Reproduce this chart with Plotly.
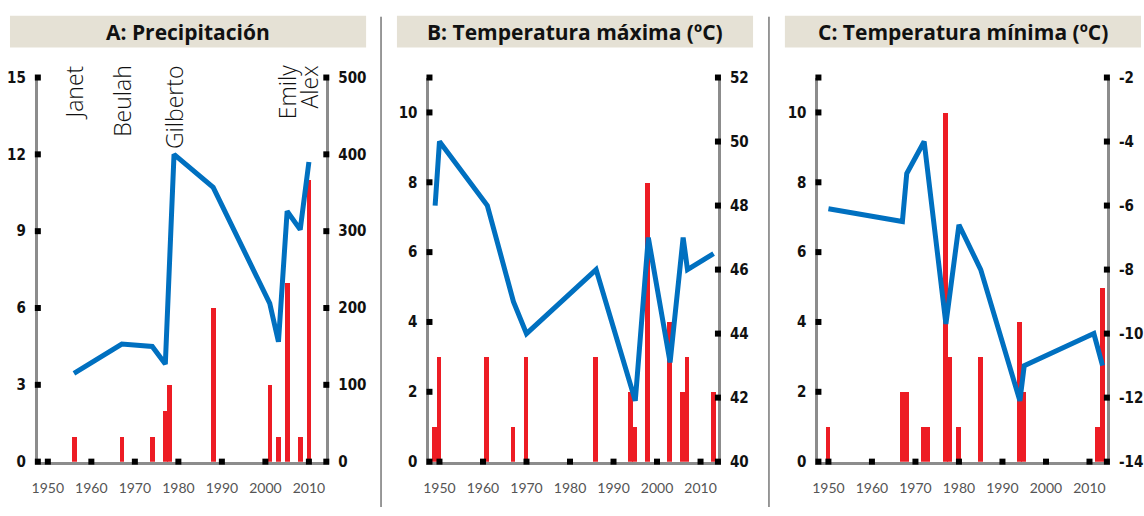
import plotly.graph_objects as go

W, H = 1144, 516

# ---------------- data ----------------
year_ticks = [1950, 1960, 1970, 1980, 1990, 2000, 2010]
x_range = [1947.7, 2014.0]

# Panel A: Precipitación
a_bar_years = [1956, 1967, 1974, 1977, 1978, 1988, 2001, 2003, 2005, 2008, 2010]
a_bar_vals = [1, 1, 1, 2, 3, 6, 3, 1, 7, 1, 11]
a_line_years = [1956, 1967, 1974, 1977, 1979, 1988, 2001, 2003, 2005, 2008, 2010]
a_line_vals = [115, 153, 150, 127, 400, 357, 206, 156, 326, 302, 390]
a_left_ticks = [0, 3, 6, 9, 12, 15]
a_right_ticks = [0, 100, 200, 300, 400, 500]
hurricane_names = ["Janet", "Beulah", "Gilberto", "Emily", "Alex"]
hurricane_years = [1956, 1967, 1979, 2005, 2010]

# Panel B: Temperatura máxima
b_bar_years = [1949, 1950, 1961, 1967, 1970, 1986, 1994, 1995, 1998, 2003, 2006, 2007, 2013]
b_bar_vals = [1, 3, 3, 1, 3, 3, 2, 1, 8, 4, 2, 3, 2]
b_line_years = [1949, 1950, 1961, 1967, 1970, 1986, 1995, 1998, 2003, 2006, 2007, 2013]
b_line_vals = [48.0, 50.0, 48.0, 45.0, 44.0, 46.0, 41.9, 47.0, 43.1, 47.0, 46.0, 46.5]
b_left_ticks = [0, 2, 4, 6, 8, 10, 11]
b_left_labels = ["0", "2", "4", "6", "8", "10", ""]
b_right_ticks = [40, 42, 44, 46, 48, 50, 52]

# Panel C: Temperatura mínima
c_bar_years = [1950, 1967, 1968, 1972, 1973, 1977, 1978, 1980, 1985, 1994, 1995, 2012, 2013]
c_bar_vals = [1, 2, 2, 1, 1, 10, 3, 1, 3, 4, 2, 1, 5]
c_line_years = [1950, 1967, 1968, 1972, 1977, 1980, 1985, 1994, 1995, 2011, 2013]
c_line_vals = [-6.1, -6.5, -5.0, -4.0, -9.7, -6.6, -8.0, -12.1, -11.0, -10.0, -11.0]
c_left_ticks = [0, 2, 4, 6, 8, 10, 11]
c_left_labels = ["0", "2", "4", "6", "8", "10", ""]
c_right_ticks = [-14, -12, -10, -8, -6, -4, -2]

titles = ["A: Precipitación", "B: Temperatura máxima (ºC)", "C: Temperatura mínima (ºC)"]

# ---------------- style ----------------
BAR_C = "#ED1C24"
LINE_C = "#0070C0"
AX_C = "#8C8C8C"
BANNER_C = "#E5E1D5"
NUM_FONT = dict(family="Liberation Sans Narrow, DejaVu Sans Condensed, Arial Narrow, sans-serif",
                size=15, color="#111111", weight="bold")
YEAR_FONT = dict(family="Lato, Open Sans, sans-serif", size=14, color="#555555")
TITLE_FONT = dict(family="Open Sans, Noto Sans, sans-serif", size=21, color="#111111", weight="bold")
NAME_FONT = dict(family="Open Sans, Lato, sans-serif", size=23, color="#111111", weight=300)

px = lambda v: v / W
py = lambda v: 1 - v / H

x_domains = [[px(32), px(322)], [px(425.7), px(715.7)], [px(816.7), px(1106.7)]]
y_domain = [py(469), py(71)]
banners = [(4, 362), (393, 751), (783, 1141)]

panels = [
    dict(bx=a_bar_years, by=a_bar_vals, lx=a_line_years, ly=a_line_vals,
         lt=a_left_ticks, ll=[str(v) for v in a_left_ticks], lr=[0, 15],
         rt=a_right_ticks, rr=[0, 500]),
    dict(bx=b_bar_years, by=b_bar_vals, lx=b_line_years, ly=b_line_vals,
         lt=b_left_ticks, ll=b_left_labels, lr=[0, 11],
         rt=b_right_ticks, rr=[40, 52]),
    dict(bx=c_bar_years, by=c_bar_vals, lx=c_line_years, ly=c_line_vals,
         lt=c_left_ticks, ll=c_left_labels, lr=[0, 11],
         rt=c_right_ticks, rr=[-14, -2]),
]

fig = go.Figure()
layout = {}
annotations = []
shapes = []

for i, p in enumerate(panels):
    xn = "x" if i == 0 else f"x{i+1}"
    yl_n = f"y{2*i+1}" if i > 0 else "y"
    yr_n = f"y{2*i+2}"
    xk = "xaxis" if i == 0 else f"xaxis{i+1}"
    ylk = "yaxis" if i == 0 else f"yaxis{2*i+1}"
    yrk = f"yaxis{2*i+2}"

    fig.add_trace(go.Bar(x=p["bx"], y=p["by"], width=1.1, marker=dict(color=BAR_C, line=dict(width=0)),
                         xaxis=xn, yaxis=yl_n, showlegend=False, hoverinfo="skip"))
    fig.add_trace(go.Scatter(x=p["lx"], y=p["ly"], mode="lines", line=dict(color=LINE_C, width=5),
                             xaxis=xn, yaxis=yr_n, showlegend=False, hoverinfo="skip"))
    # square tick marks
    sq = dict(symbol="square", size=6, color="black")
    fig.add_trace(go.Scatter(x=[x_range[0]] * len(p["lt"]), y=p["lt"], mode="markers", marker=sq,
                             cliponaxis=False, xaxis=xn, yaxis=yl_n, showlegend=False, hoverinfo="skip"))
    fig.add_trace(go.Scatter(x=[x_range[1]] * len(p["rt"]), y=p["rt"], mode="markers", marker=sq,
                             cliponaxis=False, xaxis=xn, yaxis=yr_n, showlegend=False, hoverinfo="skip"))
    fig.add_trace(go.Scatter(x=year_ticks, y=[p["lr"][0]] * len(year_ticks), mode="markers", marker=sq,
                             cliponaxis=False, xaxis=xn, yaxis=yl_n, showlegend=False, hoverinfo="skip"))

    layout[xk] = dict(domain=x_domains[i], range=x_range, anchor=yl_n, tickvals=year_ticks,
                      ticktext=[str(v) for v in year_ticks], ticks="", showline=True, linecolor=AX_C,
                      linewidth=3, showgrid=False, zeroline=False, tickfont=YEAR_FONT,
                      ticklabelstandoff=12, layer="below traces", fixedrange=True)
    layout[ylk] = dict(domain=y_domain, range=p["lr"], anchor=xn, side="left", tickvals=p["lt"],
                       ticktext=p["ll"], ticks="", showline=True, linecolor=AX_C, linewidth=3,
                       showgrid=False, zeroline=False, tickfont=NUM_FONT, ticklabelstandoff=6,
                       layer="below traces", fixedrange=True)
    layout[yrk] = dict(domain=y_domain, range=p["rr"], anchor=xn, side="right", overlaying=yl_n,
                       tickvals=p["rt"], ticktext=[str(v) for v in p["rt"]], ticks="", showline=True,
                       linecolor=AX_C, linewidth=3, showgrid=False, zeroline=False, tickfont=NUM_FONT,
                       ticklabelstandoff=6, layer="below traces", fixedrange=True)

    b0, b1 = banners[i]
    shapes.append(dict(type="rect", xref="paper", yref="paper", x0=px(b0), x1=px(b1),
                       y0=py(40), y1=py(7), fillcolor=BANNER_C, line=dict(width=0), layer="below"))
    annotations.append(dict(text=titles[i], xref="paper", yref="paper", x=px((b0 + b1) / 2),
                            y=py(23.5), xanchor="center", yanchor="middle", showarrow=False,
                            font=TITLE_FONT))

# separators
for sx in (377, 767):
    shapes.append(dict(type="line", xref="paper", yref="paper", x0=px(sx), x1=px(sx),
                       y0=0, y1=py(8), line=dict(color="#333333", width=1)))

# hurricane names
for name, yr in zip(hurricane_names, hurricane_years):
    annotations.append(dict(text=name, xref="x", yref="paper", x=yr, y=py(56), xanchor="center",
                            yanchor="top", textangle=-90, showarrow=False, font=NAME_FONT))

fig.update_layout(width=W, height=H, autosize=False, margin=dict(l=0, r=0, t=0, b=0),
                  plot_bgcolor="white", paper_bgcolor="white", shapes=shapes,
                  annotations=annotations, bargap=0, barmode="overlay", **layout)
fig.write_html("out.html", config={"responsive": False},
               post_script="document.body.style.margin='0';document.body.style.padding='0';"
                           "document.body.style.overflow='hidden';")
